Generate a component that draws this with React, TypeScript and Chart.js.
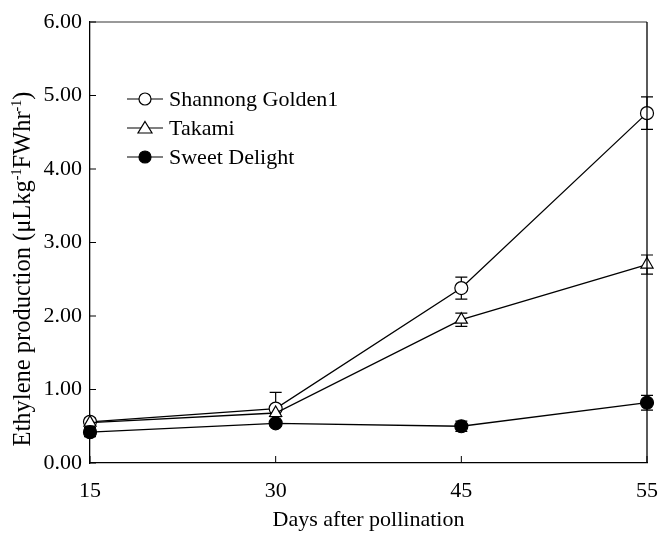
import React, { useEffect, useRef } from "react";
import { Chart, registerables } from "chart.js";

Chart.register(...registerables);

const days = ["15", "30", "45", "55"];
const shannong = [0.56, 0.74, 2.38, 4.76];
const shannongErr = [0.05, 0.22, 0.15, 0.22];
const takami = [0.55, 0.68, 1.95, 2.7];
const takamiErr = [0.04, 0.05, 0.09, 0.13];
const sweet = [0.42, 0.54, 0.5, 0.82];
const sweetErr = [0.06, 0.04, 0.07, 0.1];
const yTicks = [0, 1, 2, 3, 4, 5, 6];

const FONT = "'Liberation Serif', 'Times New Roman', serif";

const errors = [shannongErr, takamiErr, sweetErr];

const errorBarPlugin = {
  id: "errorBars",
  beforeDatasetsDraw(chart: any) {
    const ctx = chart.ctx;
    const x = chart.scales.x;
    const y = chart.scales.y;
    ctx.save();
    ctx.strokeStyle = "#000";
    ctx.lineWidth = 1.2;
    chart.data.datasets.forEach((ds: any, di: number) => {
      const err = errors[di];
      ds.data.forEach((v: number, i: number) => {
        const px = x.getPixelForValue(i);
        const top = y.getPixelForValue(v + err[i]);
        const bot = y.getPixelForValue(v - err[i]);
        ctx.beginPath();
        ctx.moveTo(px, top);
        ctx.lineTo(px, bot);
        ctx.moveTo(px - 6, top);
        ctx.lineTo(px + 6, top);
        ctx.moveTo(px - 6, bot);
        ctx.lineTo(px + 6, bot);
        ctx.stroke();
      });
    });
    ctx.restore();
  },
};

const framePlugin = {
  id: "frame",
  afterDraw(chart: any) {
    const ctx = chart.ctx;
    const a = chart.chartArea;
    const x = chart.scales.x;
    const y = chart.scales.y;
    ctx.save();
    // top (grey) and right (black) borders
    ctx.lineWidth = 1.3;
    ctx.strokeStyle = "#777";
    ctx.beginPath();
    ctx.moveTo(a.left, a.top);
    ctx.lineTo(a.right, a.top);
    ctx.stroke();
    ctx.strokeStyle = "#000";
    ctx.beginPath();
    ctx.moveTo(a.right, a.top);
    ctx.lineTo(a.right, a.bottom);
    ctx.stroke();
    // inner ticks
    ctx.lineWidth = 1;
    ctx.beginPath();
    y.ticks.forEach((t: any) => {
      const py = y.getPixelForValue(t.value);
      ctx.moveTo(a.left, py);
      ctx.lineTo(a.left + 6, py);
    });
    days.forEach((_d, i) => {
      const px = x.getPixelForValue(i);
      ctx.moveTo(px, a.bottom);
      ctx.lineTo(px, a.bottom - 7);
    });
    ctx.stroke();

    // legend
    const items = [
      { label: "Shannong Golden1", style: "circle", fill: "#fff" },
      { label: "Takami", style: "triangle", fill: "#fff" },
      { label: "Sweet Delight", style: "circle", fill: "#000" },
    ];
    ctx.font = `22px ${FONT}`;
    ctx.textBaseline = "middle";
    ctx.fillStyle = "#000";
    items.forEach((it, i) => {
      const cy = 99 + i * 29;
      ctx.strokeStyle = "#000";
      ctx.lineWidth = 1.2;
      ctx.beginPath();
      ctx.moveTo(127, cy);
      ctx.lineTo(163, cy);
      ctx.stroke();
      ctx.beginPath();
      if (it.style === "circle") {
        ctx.arc(145, cy, 6, 0, Math.PI * 2);
      } else {
        ctx.moveTo(145, cy - 6.5);
        ctx.lineTo(152, cy + 5);
        ctx.lineTo(138, cy + 5);
        ctx.closePath();
      }
      ctx.fillStyle = it.fill;
      ctx.fill();
      ctx.stroke();
      ctx.fillStyle = "#000";
      ctx.textAlign = "left";
      ctx.fillText(it.label, 169, cy + 1);
    });

    // x title
    ctx.textAlign = "center";
    ctx.textBaseline = "alphabetic";
    ctx.font = `22px ${FONT}`;
    ctx.fillText("Days after pollination", (a.left + a.right) / 2, 526);

    // y title with superscripts
    const parts: [string, boolean][] = [
      ["Ethylene production (μLkg", false],
      ["-1", true],
      ["FWhr", false],
      ["-1", true],
      [")", false],
    ];
    const big = `24.5px ${FONT}`;
    const small = `14px ${FONT}`;
    let total = 0;
    parts.forEach(([s, sup]) => {
      ctx.font = sup ? small : big;
      total += ctx.measureText(s).width;
    });
    ctx.translate(30, 269);
    ctx.rotate(-Math.PI / 2);
    ctx.textAlign = "left";
    let cx = -total / 2;
    parts.forEach(([s, sup]) => {
      ctx.font = sup ? small : big;
      ctx.fillText(s, cx, sup ? -9 : 0);
      cx += ctx.measureText(s).width;
    });
    ctx.restore();
  },
};

export default function App() {
  const ref = useRef<HTMLCanvasElement>(null);
  useEffect(() => {
    if (!ref.current) return;
    const pt = {
      borderColor: "#000",
      borderWidth: 1.3,
      pointRadius: 6.5,
      pointBorderWidth: 1.2,
      pointBorderColor: "#000",
      tension: 0,
    };
    const chart = new Chart(ref.current, {
      type: "line",
      data: {
        labels: days,
        datasets: [
          { ...pt, label: "Shannong Golden1", data: shannong, pointStyle: "circle", pointBackgroundColor: "#fff", order: 3 },
          { ...pt, label: "Takami", data: takami, pointStyle: "triangle", pointBackgroundColor: "#fff", pointRadius: 7, order: 2 },
          { ...pt, label: "Sweet Delight", data: sweet, pointStyle: "circle", pointBackgroundColor: "#000", order: 1 },
        ],
      },
      options: {
        responsive: false,
        animation: false,
        clip: false,
        layout: { padding: { left: 0, right: 13, top: 22, bottom: 0 } },
        plugins: { legend: { display: false }, tooltip: { enabled: false } },
        scales: {
          x: {
            type: "category",
            offset: false,
            grid: { display: false, drawTicks: false },
            border: { display: true, color: "#000", width: 1.3 },
            ticks: { color: "#000", font: { family: FONT, size: 22 }, padding: 15, maxRotation: 0 },
            afterFit: (s: any) => { s.height = 77; s.paddingLeft = 0; s.paddingRight = 0; },
          },
          y: {
            min: 0,
            max: 6,
            grid: { display: false, drawTicks: false },
            border: { display: true, color: "#000", width: 1.3 },
            afterBuildTicks: (s: any) => { s.ticks = yTicks.map((v) => ({ value: v })); },
            ticks: {
              color: "#000",
              font: { family: FONT, size: 22 },
              padding: 8,
              callback: (v: any) => Number(v).toFixed(2),
            },
            afterFit: (s: any) => { s.width = 90; s.paddingTop = 0; s.paddingBottom = 0; },
          },
        },
      },
      plugins: [errorBarPlugin, framePlugin],
    } as any);
    return () => chart.destroy();
  }, []);
  return (
    <div style={{ position: "absolute", left: 0, top: 0, width: 660, height: 540, background: "#fff" }}>
      <canvas ref={ref} width={660} height={540} />
    </div>
  );
}
